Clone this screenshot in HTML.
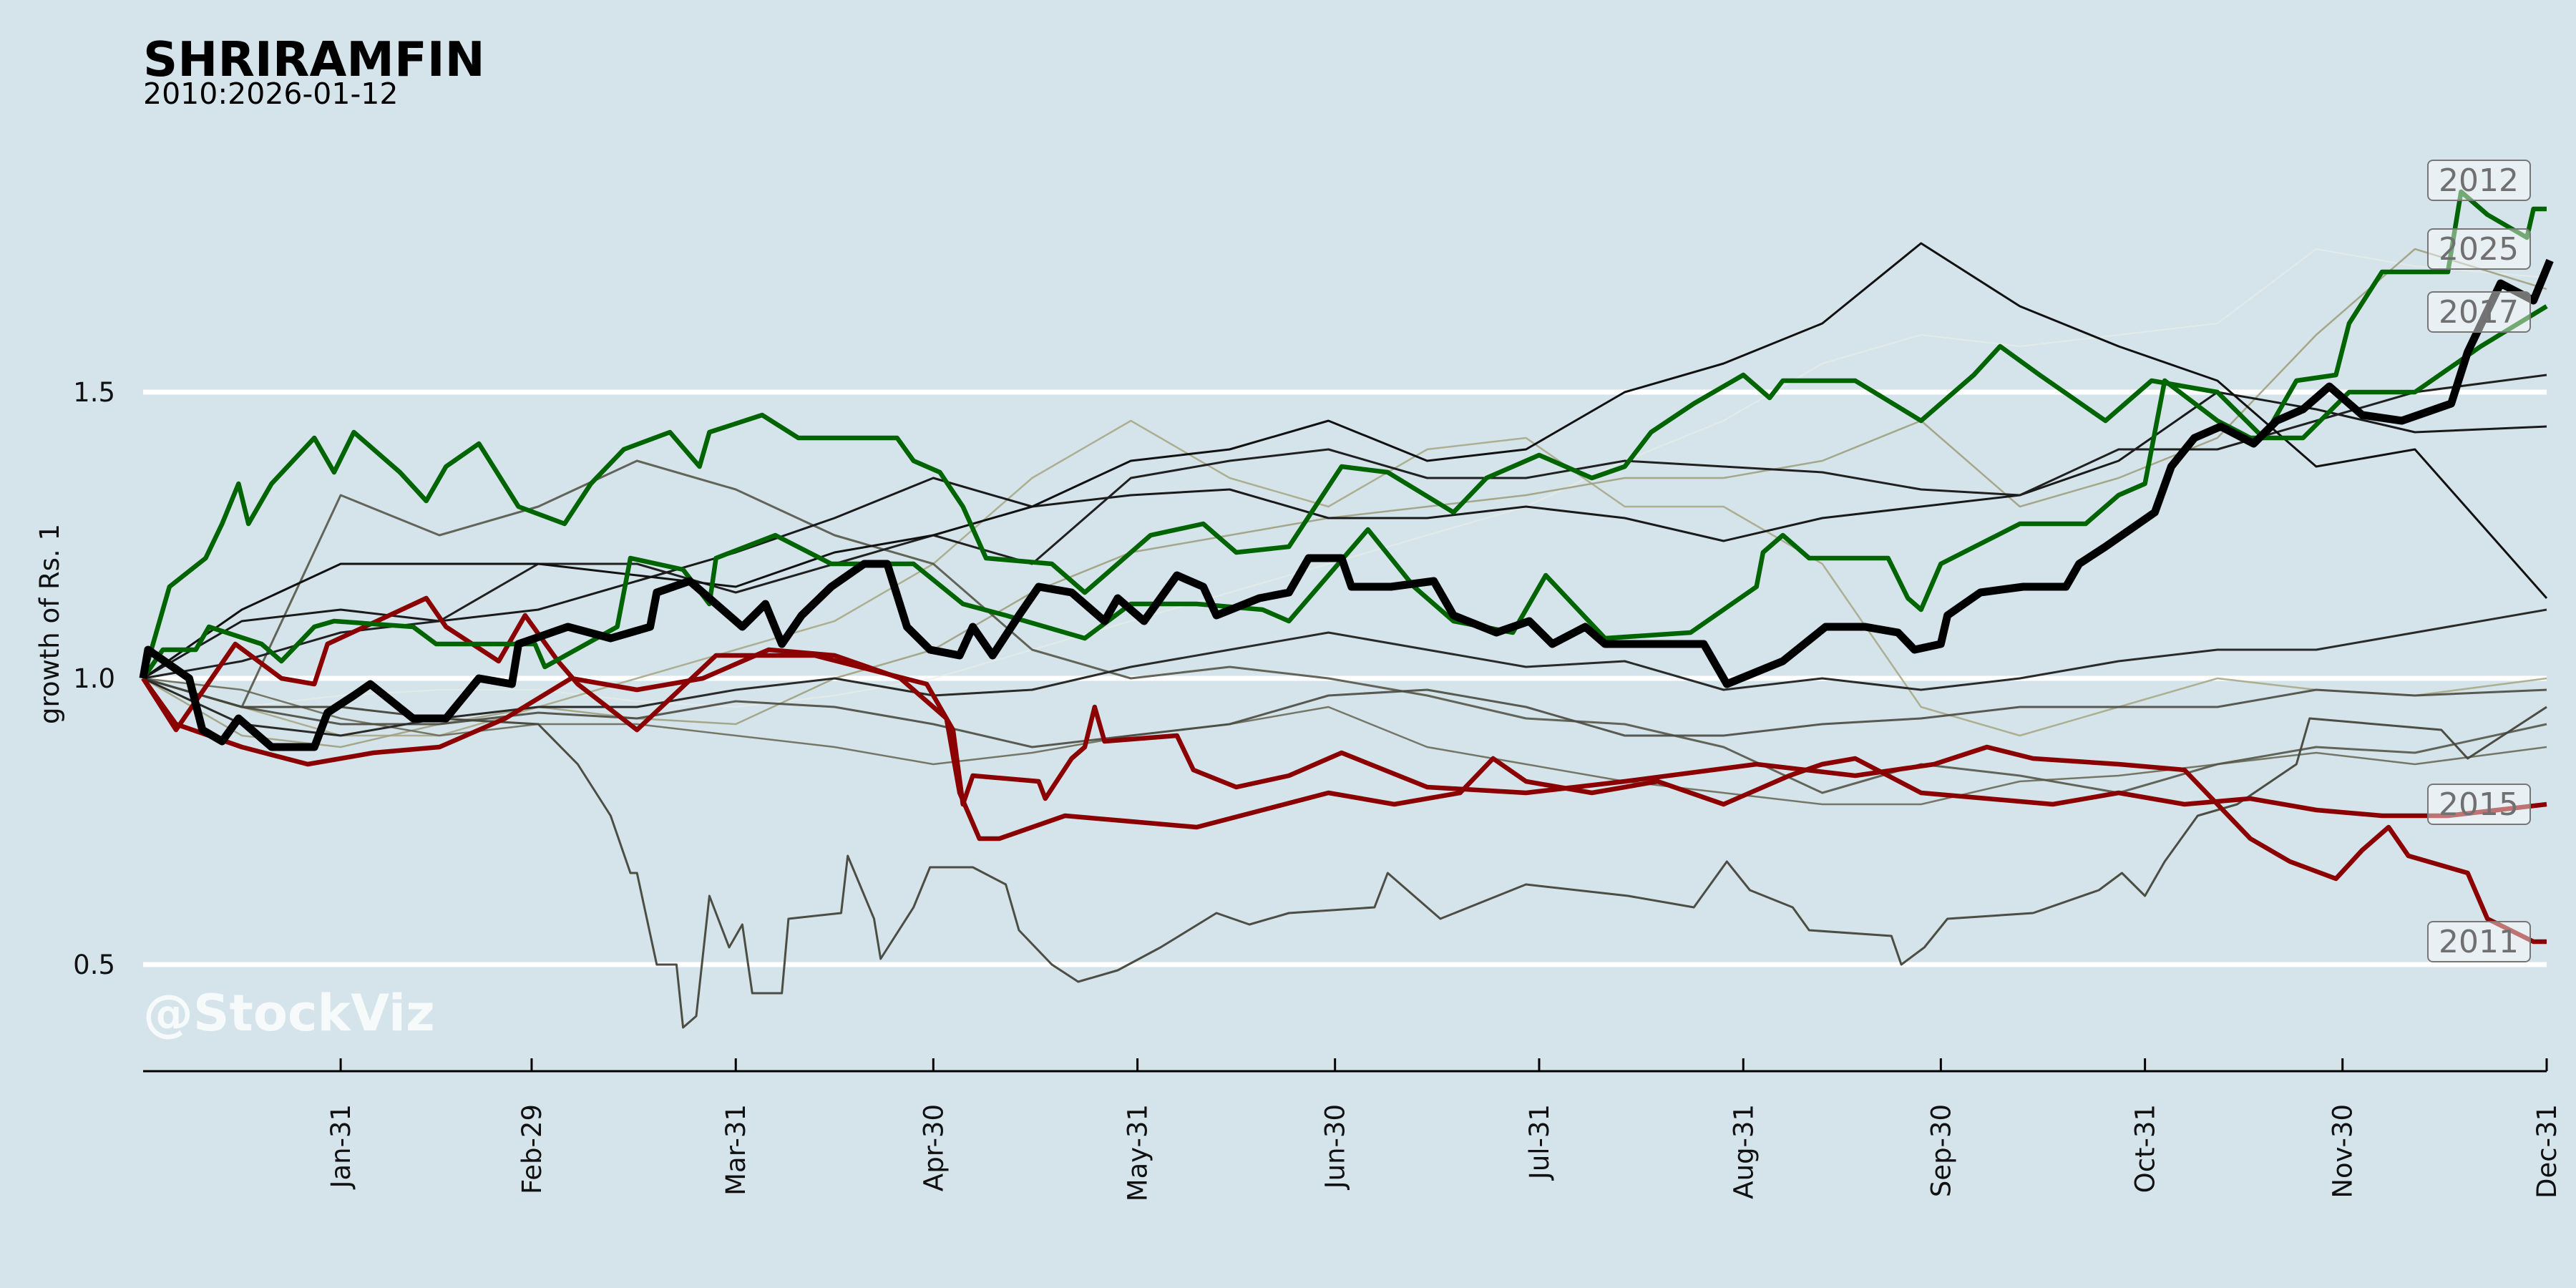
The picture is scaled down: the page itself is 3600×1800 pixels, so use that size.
<!DOCTYPE html>
<html><head><meta charset="utf-8"><style>
html,body{margin:0;padding:0;background:#d5e4eb;}
svg{display:block;font-family:"DejaVu Sans","Liberation Sans",sans-serif;}
</style></head><body>
<svg id="chart" width="3600" height="1800" viewBox="0 0 3600 1800" xmlns="http://www.w3.org/2000/svg">
<rect x="0" y="0" width="3600" height="1800" fill="#d5e4eb"/>
<text x="200" y="106" font-size="67" font-weight="bold" fill="#000">SHRIRAMFIN</text>
<text x="200" y="145" font-size="41" fill="#000">2010:2026-01-12</text>
<g id="grid"></g>
<g id="series"></g>
<g id="axes"></g>
<text x="82" y="872" font-size="37" text-anchor="middle" transform="rotate(-90 82 872)" fill="#111">growth of Rs. 1</text>
<text x="200" y="1440" font-size="70" font-weight="bold" fill="#ffffff" fill-opacity="0.8">@StockViz</text>
<g id="labels"></g>
</svg>
<script>
const yTicks = [0.5, 1.0, 1.5];
const yTickLabels = ["0.5", "1.0", "1.5"];
const xTickDays = [30, 59, 90, 120, 151, 181, 212, 243, 273, 304, 334, 365];
const xTickLabels = ["Jan-31","Feb-29","Mar-31","Apr-30","May-31","Jun-30","Jul-31","Aug-31","Sep-30","Oct-31","Nov-30","Dec-31"];
const uniformDays = [0,15,30,45,60,75,90,105,120,135,150,165,180,195,210,225,240,255,270,285,300,315,330,345,365];

const light3 = [1.0,0.95,0.97,0.98,0.98,0.96,0.95,0.97,1.0,1.05,1.1,1.15,1.2,1.25,1.3,1.38,1.45,1.55,1.6,1.58,1.6,1.62,1.75,1.72,1.7];
const light1 = [1.0,0.95,0.9,0.9,0.95,1.0,1.05,1.1,1.2,1.35,1.45,1.35,1.3,1.4,1.42,1.3,1.3,1.2,0.95,0.9,0.95,1.0,0.98,0.97,1.0];
const light2 = [1.0,0.9,0.88,0.92,0.95,0.93,0.92,1.0,1.05,1.15,1.22,1.25,1.28,1.3,1.32,1.35,1.35,1.38,1.45,1.3,1.35,1.42,1.6,1.75,1.68];
const thin8 = [1.0,0.98,0.93,0.9,0.92,0.92,0.9,0.88,0.85,0.87,0.9,0.92,0.95,0.88,0.85,0.82,0.8,0.78,0.78,0.82,0.83,0.85,0.87,0.85,0.88];
const thin7 = [1.0,0.95,1.32,1.25,1.3,1.38,1.33,1.25,1.2,1.05,1.0,1.02,1.0,0.97,0.93,0.92,0.88,0.8,0.85,0.83,0.8,0.85,0.88,0.87,0.92];
const thin6 = [1.0,0.95,0.92,0.92,0.94,0.93,0.96,0.95,0.92,0.88,0.9,0.92,0.97,0.98,0.95,0.9,0.9,0.92,0.93,0.95,0.95,0.95,0.98,0.97,0.98];
const thin5 = [1.0,0.92,0.9,0.93,0.95,0.95,0.98,1.0,0.97,0.98,1.02,1.05,1.08,1.05,1.02,1.03,0.98,1.0,0.98,1.0,1.03,1.05,1.05,1.08,1.12];
const thin3 = [1.0,1.1,1.12,1.1,1.12,1.17,1.22,1.28,1.35,1.3,1.32,1.33,1.28,1.28,1.3,1.28,1.24,1.28,1.3,1.32,1.38,1.5,1.47,1.43,1.44];
const thin2 = [1.0,1.03,1.08,1.1,1.2,1.2,1.15,1.2,1.25,1.2,1.35,1.38,1.4,1.35,1.35,1.38,1.37,1.36,1.33,1.32,1.4,1.4,1.45,1.5,1.53];
const thin1 = [1.0,1.12,1.2,1.2,1.2,1.18,1.16,1.22,1.25,1.3,1.38,1.4,1.45,1.38,1.4,1.5,1.55,1.62,1.76,1.65,1.58,1.52,1.37,1.4,1.14];

const dropDays = [0,15,30,45,60,66,71,74,75,78,81,82,84,86,89,91,92.5,97,98,106,107,111,112,117,119.5,126,131,133,138,142,148,154.5,163,168,174,187,189,193,197,210,225.5,235.5,240.5,244,250.5,253,265.5,267,270.5,274,287,297,300.5,304,307,312,318,327,329,349,353,365];
const dropVals = [1.0,0.95,0.95,0.93,0.92,0.85,0.76,0.66,0.66,0.50,0.50,0.39,0.41,0.62,0.53,0.57,0.45,0.45,0.58,0.59,0.69,0.58,0.51,0.60,0.67,0.67,0.64,0.56,0.50,0.47,0.49,0.53,0.59,0.57,0.59,0.60,0.66,0.62,0.58,0.64,0.62,0.60,0.68,0.63,0.60,0.56,0.55,0.50,0.53,0.58,0.59,0.63,0.66,0.62,0.68,0.76,0.78,0.85,0.93,0.91,0.86,0.95];

const redADays = [0,5,14,21,26,28,43,46,54,58,63,66,75,87,102,119,123,124.5,126,136,137,141,143,144.5,146,157,159.5,166,174,182,195,210,225,245,260,272,280,287,300,310,315,320,326,333,337,341,344,353,356,363,365];
const redAVals = [1.0,0.91,1.06,1.0,0.99,1.06,1.14,1.09,1.03,1.11,1.03,0.99,0.91,1.04,1.04,0.99,0.91,0.78,0.83,0.82,0.79,0.86,0.88,0.95,0.89,0.90,0.84,0.81,0.83,0.87,0.81,0.80,0.82,0.85,0.83,0.85,0.88,0.86,0.85,0.84,0.78,0.72,0.68,0.65,0.70,0.74,0.69,0.66,0.58,0.54,0.54];
const redBDays = [0,5,15,25,35,45,55,65,75,85,95,105,115,122,124,127,130,140,150,160,170,180,190,200,205,210,220,230,240,250,255,260,270,280,290,300,310,320,330,340,350,365];
const redBVals = [1.0,0.92,0.88,0.85,0.87,0.88,0.93,1.0,0.98,1.0,1.05,1.04,1.0,0.93,0.80,0.72,0.72,0.76,0.75,0.74,0.77,0.80,0.78,0.80,0.86,0.82,0.80,0.82,0.78,0.83,0.85,0.86,0.80,0.79,0.78,0.80,0.78,0.79,0.77,0.76,0.76,0.78];

const greenBDays = [0,3,8,10,18,21,26,29,41,44.5,59.5,61,72,74,82,86,87,96,104.5,117,124.5,131,143,150,160,170,174,186,193,199,208,213,222,235,245,246,249,253,265,268,270,273,285,295,300,304,307,315,320,328,335,345,355,365];
const greenBVals = [1.0,1.05,1.05,1.09,1.06,1.03,1.09,1.10,1.09,1.06,1.06,1.02,1.09,1.21,1.19,1.13,1.21,1.25,1.20,1.20,1.13,1.11,1.07,1.13,1.13,1.12,1.10,1.26,1.16,1.10,1.08,1.18,1.07,1.08,1.16,1.22,1.25,1.21,1.21,1.14,1.12,1.20,1.27,1.27,1.32,1.34,1.52,1.45,1.42,1.42,1.5,1.5,1.58,1.65];
const greenADays = [0,4,9.5,12,14.5,16,19.5,26,29,32,39,43,46,51,57,64,68,73,80,84.5,86,94,99.5,114.5,117,121,124.5,128,138,143,153,161,166,174,182,189,199,204,212,220,225,229,235.5,243,247,249,260,270,278,282,288,298,305,315,322,327,333,335,340,350,352,356,362,363,365];
const greenAVals = [1.0,1.16,1.21,1.27,1.34,1.27,1.34,1.42,1.36,1.43,1.36,1.31,1.37,1.41,1.30,1.27,1.34,1.40,1.43,1.37,1.43,1.46,1.42,1.42,1.38,1.36,1.30,1.21,1.20,1.15,1.25,1.27,1.22,1.23,1.37,1.36,1.29,1.35,1.39,1.35,1.37,1.43,1.48,1.53,1.49,1.52,1.52,1.45,1.53,1.58,1.53,1.45,1.52,1.50,1.42,1.52,1.53,1.62,1.71,1.71,1.85,1.81,1.77,1.82,1.82];

const mainDays = [0,0.75,7,9,12,14.5,19.5,26,28,32,34.5,41,46,51,56,57,64.5,71,77,78,83,87,91,94.5,97,100,104.5,109.5,113,116,119.5,124,126,129,133,136,141,146,148,152,157,161,163,169.5,174,177,182,183.5,189.5,196,199,205.5,210.5,214,219,222,232,237,240.5,249,255.5,261.5,266.5,269,273,274,279,285.5,292,294,298,305.5,308,311.5,315.5,320.5,324,328,332,337,343,350.5,353,358,363,365.5];
const mainVals = [1.0,1.05,1.0,0.91,0.89,0.93,0.88,0.88,0.94,0.97,0.99,0.93,0.93,1.0,0.99,1.06,1.09,1.07,1.09,1.15,1.17,1.13,1.09,1.13,1.06,1.11,1.16,1.20,1.20,1.09,1.05,1.04,1.09,1.04,1.11,1.16,1.15,1.10,1.14,1.10,1.18,1.16,1.11,1.14,1.15,1.21,1.21,1.16,1.16,1.17,1.11,1.08,1.10,1.06,1.09,1.06,1.06,1.06,0.99,1.03,1.09,1.09,1.08,1.05,1.06,1.11,1.15,1.16,1.16,1.20,1.23,1.29,1.37,1.42,1.44,1.41,1.45,1.47,1.51,1.46,1.45,1.48,1.57,1.69,1.66,1.73];

const labelNames = ["2012","2025","2017","2015","2011"];
const labelValues = [1.87,1.75,1.64,0.78,0.54];

const NS = "http://www.w3.org/2000/svg";
function X(d){ return 200 + d * (3359/365); }
function Y(v){ return 948 - (v - 1) * 800; }

const grid = document.getElementById('grid');
yTicks.forEach((t, i) => {
  const ln = document.createElementNS(NS, 'line');
  ln.setAttribute('x1', 200); ln.setAttribute('x2', 3559);
  ln.setAttribute('y1', Y(t)); ln.setAttribute('y2', Y(t));
  ln.setAttribute('stroke', '#ffffff'); ln.setAttribute('stroke-width', 7);
  
  
  grid.appendChild(ln);
  const tx = document.createElementNS(NS, 'text');
  tx.setAttribute('x', 161); tx.setAttribute('y', Y(t) + 13);
  tx.setAttribute('text-anchor', 'end'); tx.setAttribute('font-size', 37); tx.setAttribute('fill', '#111');
  tx.textContent = yTickLabels[i];
  
  
  grid.appendChild(tx);
});

const axes = document.getElementById('axes');
const axisLine = document.createElementNS(NS, 'line');
axisLine.setAttribute('x1', 200); axisLine.setAttribute('x2', 3559);
axisLine.setAttribute('y1', 1497); axisLine.setAttribute('y2', 1497);
axisLine.setAttribute('stroke', '#000'); axisLine.setAttribute('stroke-width', 3);


axes.appendChild(axisLine);
xTickDays.forEach((d, i) => {
  const x = X(d);
  const tk = document.createElementNS(NS, 'line');
  tk.setAttribute('x1', x); tk.setAttribute('x2', x);
  tk.setAttribute('y1', 1479); tk.setAttribute('y2', 1497);
  tk.setAttribute('stroke', '#000'); tk.setAttribute('stroke-width', 3);
  
  
  axes.appendChild(tk);
  const tx = document.createElementNS(NS, 'text');
  const bx = x + 13, by = 1543;
  tx.setAttribute('x', bx); tx.setAttribute('y', by);
  tx.setAttribute('text-anchor', 'end'); tx.setAttribute('font-size', 37); tx.setAttribute('fill', '#111');
  tx.setAttribute('transform', 'rotate(-90 ' + bx + ' ' + by + ')');
  tx.textContent = xTickLabels[i];
  
  
  axes.appendChild(tx);
});

const sg = document.getElementById('series');
function draw(days, vals, color, width, opacity, name){
  let d = '';
  for (let i = 0; i < vals.length; i++) d += (i ? 'L' : 'M') + X(days[i]).toFixed(1) + ' ' + Y(vals[i]).toFixed(1);
  const p = document.createElementNS(NS, 'path');
  p.setAttribute('d', d); p.setAttribute('fill', 'none');
  p.setAttribute('stroke', color); p.setAttribute('stroke-width', width);
  p.setAttribute('stroke-opacity', opacity); p.setAttribute('stroke-linejoin', 'round');
  
  
  sg.appendChild(p);
}
draw(uniformDays, light3, '#e8eee8', 2, 0.7, 'series-light-3');
draw(uniformDays, light1, '#a8a888', 2.5, 0.9, 'series-light-1');
draw(uniformDays, light2, '#a0a080', 2.5, 0.9, 'series-light-2');
draw(uniformDays, thin8, '#6a6a58', 2.5, 0.9, 'series-thin-8');
draw(uniformDays, thin7, '#555548', 3, 0.9, 'series-thin-7');
draw(uniformDays, thin6, '#4a4a40', 3, 0.9, 'series-thin-6');
draw(dropDays, dropVals, '#44443a', 3, 0.95, 'series-drop');
draw(uniformDays, thin5, '#2a2a28', 3, 1, 'series-thin-5');
draw(uniformDays, thin3, '#1a1a1a', 3, 1, 'series-thin-3');
draw(uniformDays, thin2, '#202020', 3, 1, 'series-thin-2');
draw(uniformDays, thin1, '#111111', 3, 1, 'series-thin-1');
draw(redBDays, redBVals, '#8b0000', 6.5, 1, 'series-red-2015');
draw(redADays, redAVals, '#8b0000', 6.5, 1, 'series-red-2011');
draw(greenBDays, greenBVals, '#006400', 6.5, 1, 'series-green-2017');
draw(greenADays, greenAVals, '#006400', 6.5, 1, 'series-green-2012');
draw(mainDays, mainVals, '#000000', 11, 1, 'series-main');

const lg = document.getElementById('labels');
labelNames.forEach((n, i) => {
  const cy = Y(labelValues[i]);
  const r = document.createElementNS(NS, 'rect');
  r.setAttribute('x', 3393); r.setAttribute('y', cy - 28);
  r.setAttribute('width', 143); r.setAttribute('height', 56);
  r.setAttribute('rx', 7); r.setAttribute('fill', '#ffffff'); r.setAttribute('fill-opacity', 0.45);
  r.setAttribute('stroke', '#777'); r.setAttribute('stroke-width', 2);
  
  
  lg.appendChild(r);
  const t = document.createElementNS(NS, 'text');
  t.setAttribute('x', 3464); t.setAttribute('y', cy + 15);
  t.setAttribute('text-anchor', 'middle'); t.setAttribute('font-size', 44); t.setAttribute('fill', '#707070');
  t.textContent = n;
  
  
  lg.appendChild(t);
});
</script>
</body></html>
